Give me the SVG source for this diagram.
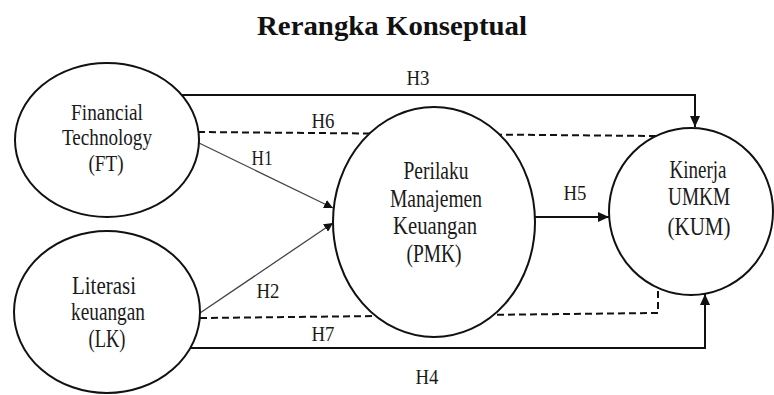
<svg xmlns="http://www.w3.org/2000/svg" width="774" height="395" viewBox="0 0 774 395">
<style>
.node{fill:#fff;stroke:#111;stroke-width:2}
.lbl{font-family:"Liberation Serif","Times New Roman",serif;font-size:25px;fill:#1a1a1a;text-anchor:middle}
.lbl.s{font-size:23px}
.h{font-family:"Liberation Serif","Times New Roman",serif;font-size:21px;fill:#1a1a1a;text-anchor:middle}
.title{font-family:"Liberation Serif","Times New Roman",serif;font-size:28px;font-weight:bold;fill:#111;text-anchor:middle}
.solid{fill:none;stroke:#111;stroke-width:2}
.thin{fill:none;stroke:#444;stroke-width:1.3}
.dash{fill:none;stroke:#111;stroke-width:2;stroke-dasharray:7 4}
</style>
<defs>
<marker id="arr" markerUnits="userSpaceOnUse" markerWidth="12" markerHeight="10" refX="11" refY="5" orient="auto">
<path d="M0,0 L11,5 L0,10 z" fill="#111"/>
</marker>
<marker id="arrS" markerUnits="userSpaceOnUse" markerWidth="10" markerHeight="9" refX="9" refY="4.5" orient="auto">
<path d="M0,0 L9,4.5 L0,9 z" fill="#111"/>
</marker>
</defs>
<rect width="774" height="395" fill="#fff"/>
<text class="title" x="392" y="35" textLength="270" lengthAdjust="spacingAndGlyphs">Rerangka Konseptual</text>
<g id="connectors">
<polyline class="solid" points="182,95 695,95 695,127" marker-end="url(#arr)"/>
<line class="dash" x1="198" y1="132" x2="658" y2="136"/>
<polyline class="dash" points="200,318 658,313 658,289"/>
<polyline class="solid" points="191,348 705,348 705,294" marker-end="url(#arr)"/>
<line class="thin" x1="199" y1="143" x2="333" y2="208" marker-end="url(#arrS)"/>
<line class="thin" x1="200" y1="313" x2="333" y2="223" marker-end="url(#arrS)"/>
<line class="solid" x1="535" y1="217" x2="609" y2="217" marker-end="url(#arr)"/>
<text class="h" x="418" y="85" textLength="23" lengthAdjust="spacingAndGlyphs">H3</text>
<text class="h" x="323" y="128" textLength="23" lengthAdjust="spacingAndGlyphs">H6</text>
<text class="h" x="262" y="165" textLength="21" lengthAdjust="spacingAndGlyphs">H1</text>
<text class="h" x="268" y="298" textLength="23" lengthAdjust="spacingAndGlyphs">H2</text>
<text class="h" x="323" y="341" textLength="23" lengthAdjust="spacingAndGlyphs">H7</text>
<text class="h" x="427" y="384" textLength="23" lengthAdjust="spacingAndGlyphs">H4</text>
<text class="h" x="575" y="200" textLength="23" lengthAdjust="spacingAndGlyphs">H5</text>
</g>
<g id="FT">
<ellipse class="node" cx="107" cy="140" rx="92" ry="77"/>
<text class="lbl s" x="107" y="120" textLength="72" lengthAdjust="spacingAndGlyphs">Financial</text>
<text class="lbl s" x="107" y="145" textLength="90" lengthAdjust="spacingAndGlyphs">Technology</text>
<text class="lbl s" x="106" y="171" textLength="35" lengthAdjust="spacingAndGlyphs">(FT)</text>
</g>
<g id="LK">
<ellipse class="node" cx="107" cy="312" rx="93" ry="81"/>
<text class="lbl" x="104" y="294" textLength="64" lengthAdjust="spacingAndGlyphs">Literasi</text>
<text class="lbl" x="108" y="320" textLength="74" lengthAdjust="spacingAndGlyphs">keuangan</text>
<text class="lbl" x="107" y="347" textLength="37" lengthAdjust="spacingAndGlyphs">(LK)</text>
</g>
<g id="PMK">
<ellipse class="node" cx="434" cy="222" rx="101" ry="115"/>
<text class="lbl" x="436" y="179" textLength="65" lengthAdjust="spacingAndGlyphs">Perilaku</text>
<text class="lbl" x="436" y="207" textLength="92" lengthAdjust="spacingAndGlyphs">Manajemen</text>
<text class="lbl" x="435" y="234" textLength="84" lengthAdjust="spacingAndGlyphs">Keuangan</text>
<text class="lbl" x="434" y="262" textLength="55" lengthAdjust="spacingAndGlyphs">(PMK)</text>
</g>
<g id="KUM">
<ellipse class="node" cx="691" cy="211.5" rx="82" ry="83.5"/>
<text class="lbl" x="698" y="178" textLength="57" lengthAdjust="spacingAndGlyphs">Kinerja</text>
<text class="lbl" x="699" y="205" textLength="62" lengthAdjust="spacingAndGlyphs">UMKM</text>
<text class="lbl" x="699" y="235" textLength="63" lengthAdjust="spacingAndGlyphs">(KUM)</text>
</g>
</svg>
